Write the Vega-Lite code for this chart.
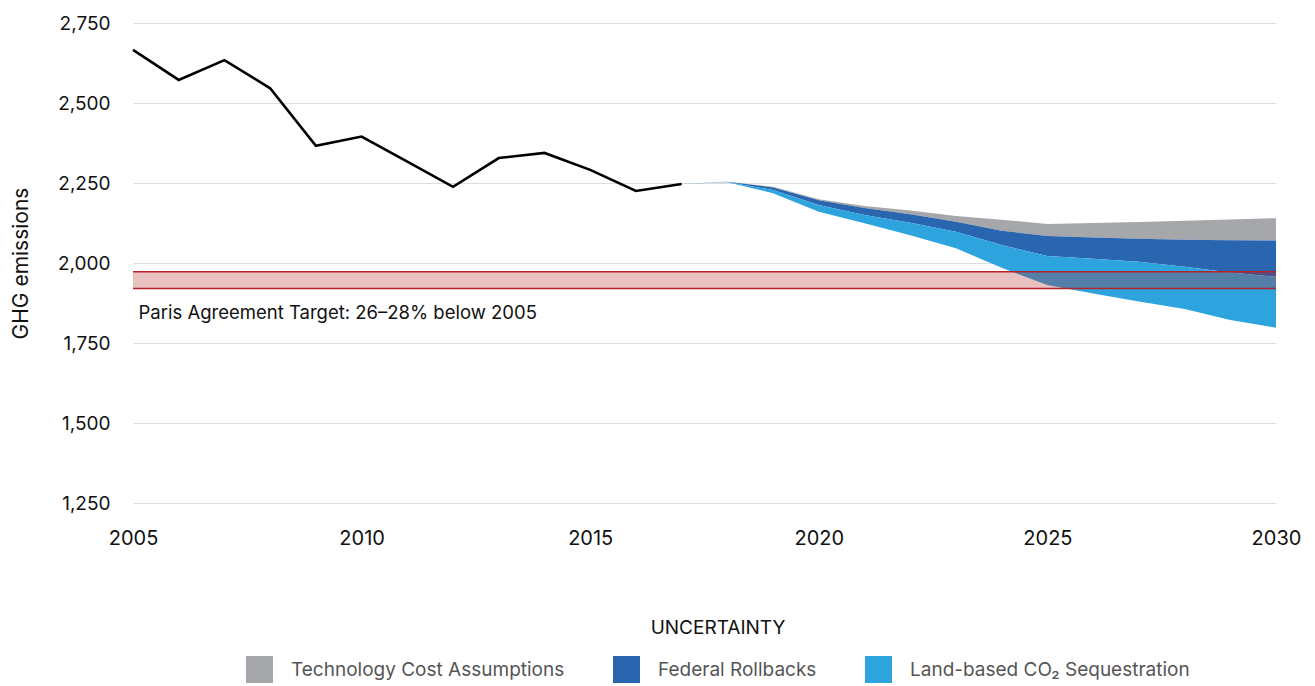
{
  "$schema": "https://vega.github.io/schema/vega-lite/v6.json",
  "width": 1143,
  "height": 480,
  "autosize": {"type": "none"},
  "padding": {"left": 133, "top": 23, "right": 39, "bottom": 183},
  "background": "white",
  "config": {
    "view": {"stroke": null},
    "font": "Inter",
    "axis": {"labelFont": "Inter", "titleFont": "Inter"}
  },
  "datasets": {
    "hist": [
      {"year": 2005, "value": 2666},
      {"year": 2006, "value": 2572},
      {"year": 2007, "value": 2634},
      {"year": 2008, "value": 2546},
      {"year": 2009, "value": 2366},
      {"year": 2010, "value": 2395},
      {"year": 2011, "value": 2317},
      {"year": 2012, "value": 2238},
      {"year": 2013, "value": 2328},
      {"year": 2014, "value": 2344},
      {"year": 2015, "value": 2291},
      {"year": 2016, "value": 2225},
      {"year": 2017, "value": 2247}
    ],
    "bands": [
      {"year": 2017, "series": "Technology Cost Assumptions", "lo": 2247, "hi": 2247},
      {"year": 2018, "series": "Technology Cost Assumptions", "lo": 2254, "hi": 2254},
      {"year": 2019, "series": "Technology Cost Assumptions", "lo": 2236, "hi": 2238},
      {"year": 2020, "series": "Technology Cost Assumptions", "lo": 2196, "hi": 2199},
      {"year": 2021, "series": "Technology Cost Assumptions", "lo": 2172, "hi": 2178},
      {"year": 2022, "series": "Technology Cost Assumptions", "lo": 2152, "hi": 2164},
      {"year": 2023, "series": "Technology Cost Assumptions", "lo": 2129, "hi": 2147},
      {"year": 2024, "series": "Technology Cost Assumptions", "lo": 2101, "hi": 2135},
      {"year": 2025, "series": "Technology Cost Assumptions", "lo": 2084, "hi": 2122},
      {"year": 2026, "series": "Technology Cost Assumptions", "lo": 2080, "hi": 2125},
      {"year": 2027, "series": "Technology Cost Assumptions", "lo": 2076, "hi": 2128},
      {"year": 2028, "series": "Technology Cost Assumptions", "lo": 2073, "hi": 2132},
      {"year": 2029, "series": "Technology Cost Assumptions", "lo": 2071, "hi": 2136},
      {"year": 2030, "series": "Technology Cost Assumptions", "lo": 2070, "hi": 2140},
      {"year": 2017, "series": "Federal Rollbacks", "lo": 2247, "hi": 2247},
      {"year": 2018, "series": "Federal Rollbacks", "lo": 2253, "hi": 2254},
      {"year": 2019, "series": "Federal Rollbacks", "lo": 2228, "hi": 2236},
      {"year": 2020, "series": "Federal Rollbacks", "lo": 2181, "hi": 2196},
      {"year": 2021, "series": "Federal Rollbacks", "lo": 2150, "hi": 2172},
      {"year": 2022, "series": "Federal Rollbacks", "lo": 2126, "hi": 2152},
      {"year": 2023, "series": "Federal Rollbacks", "lo": 2098, "hi": 2129},
      {"year": 2024, "series": "Federal Rollbacks", "lo": 2056, "hi": 2101},
      {"year": 2025, "series": "Federal Rollbacks", "lo": 2022, "hi": 2084},
      {"year": 2026, "series": "Federal Rollbacks", "lo": 2013, "hi": 2080},
      {"year": 2027, "series": "Federal Rollbacks", "lo": 2004, "hi": 2076},
      {"year": 2028, "series": "Federal Rollbacks", "lo": 1988, "hi": 2073},
      {"year": 2029, "series": "Federal Rollbacks", "lo": 1970, "hi": 2071},
      {"year": 2030, "series": "Federal Rollbacks", "lo": 1957, "hi": 2070},
      {"year": 2017, "series": "Land-based CO₂ Sequestration", "lo": 2247, "hi": 2247},
      {"year": 2018, "series": "Land-based CO₂ Sequestration", "lo": 2252, "hi": 2253},
      {"year": 2019, "series": "Land-based CO₂ Sequestration", "lo": 2218, "hi": 2228},
      {"year": 2020, "series": "Land-based CO₂ Sequestration", "lo": 2160, "hi": 2181},
      {"year": 2021, "series": "Land-based CO₂ Sequestration", "lo": 2124, "hi": 2150},
      {"year": 2022, "series": "Land-based CO₂ Sequestration", "lo": 2087, "hi": 2126},
      {"year": 2023, "series": "Land-based CO₂ Sequestration", "lo": 2046, "hi": 2098},
      {"year": 2024, "series": "Land-based CO₂ Sequestration", "lo": 1985, "hi": 2056},
      {"year": 2025, "series": "Land-based CO₂ Sequestration", "lo": 1931, "hi": 2022},
      {"year": 2026, "series": "Land-based CO₂ Sequestration", "lo": 1905, "hi": 2013},
      {"year": 2027, "series": "Land-based CO₂ Sequestration", "lo": 1880, "hi": 2004},
      {"year": 2028, "series": "Land-based CO₂ Sequestration", "lo": 1856, "hi": 1988},
      {"year": 2029, "series": "Land-based CO₂ Sequestration", "lo": 1822, "hi": 1970},
      {"year": 2030, "series": "Land-based CO₂ Sequestration", "lo": 1798, "hi": 1957}
    ],
    "target": [
      {"start": 2005, "end": 2030, "low": 1920, "high": 1973, "label": "Paris Agreement Target: 26–28% below 2005", "labelYear": 2005.12, "labelValue": 1844}
    ]
  },
  "encoding": {
    "x": {
      "field": "year",
      "type": "quantitative",
      "scale": {"domain": [2005, 2030], "nice": false, "zero": false},
      "axis": {
        "values": [2005, 2010, 2015, 2020, 2025, 2030],
        "format": "d",
        "title": null,
        "grid": false,
        "domain": false,
        "ticks": false,
        "labelFontSize": 20,
        "labelColor": "#111111",
        "labelPadding": 25,
        "labelFlush": false
      }
    }
  },
  "layer": [
    {
      "data": {"name": "bands"},
      "mark": {"type": "area", "interpolate": "linear", "opacity": 1},
      "encoding": {
        "x": {"field": "year", "type": "quantitative"},
        "y": {
          "field": "hi",
          "type": "quantitative",
          "stack": null,
          "scale": {"domain": [1250, 2750], "nice": false, "zero": false},
          "axis": {
            "values": [1250, 1500, 1750, 2000, 2250, 2500, 2750],
            "format": ",d",
            "title": "GHG emissions",
            "titleFontSize": 21,
            "titleFontWeight": "normal",
            "titleColor": "#111111",
            "titlePadding": 26,
            "grid": true,
            "gridColor": "#dddddd",
            "gridWidth": 1,
            "domain": false,
            "ticks": false,
            "labelFontSize": 19,
            "labelColor": "#111111",
            "labelPadding": 23
          }
        },
        "y2": {"field": "lo"},
        "color": {
          "field": "series",
          "type": "nominal",
          "scale": {
            "domain": ["Technology Cost Assumptions", "Federal Rollbacks", "Land-based CO₂ Sequestration"],
            "range": ["#a6a7ab", "#2a65b0", "#2ea4de"]
          },
          "legend": {
            "title": "UNCERTAINTY",
            "orient": "none",
            "direction": "horizontal",
            "legendX": 113,
            "legendY": 596,
            "titleAnchor": "middle",
            "titleOrient": "top",
            "titleFontSize": 19,
            "titleFontWeight": "normal",
            "titleColor": "#111111",
            "titlePadding": 18,
            "symbolType": "square",
            "symbolSize": 729,
            "symbolStrokeWidth": 0,
            "symbolOpacity": 1,
            "labelFontSize": 19,
            "labelColor": "#555555",
            "labelOffset": 18,
            "columnPadding": 48,
            "labelLimit": 400
          }
        }
      }
    },
    {
      "data": {"name": "hist"},
      "mark": {"type": "line", "color": "#000000", "strokeWidth": 2.6},
      "encoding": {
        "x": {"field": "year", "type": "quantitative"},
        "y": {"field": "value", "type": "quantitative"}
      }
    },
    {
      "data": {"name": "target"},
      "mark": {"type": "rect", "color": "#b22222", "opacity": 0.28},
      "encoding": {
        "x": {"field": "start", "type": "quantitative"},
        "x2": {"field": "end"},
        "y": {"field": "low", "type": "quantitative"},
        "y2": {"field": "high"}
      }
    },
    {
      "data": {"name": "target"},
      "mark": {"type": "rule", "color": "#b5232a", "strokeWidth": 1.5},
      "encoding": {
        "x": {"field": "start", "type": "quantitative"},
        "x2": {"field": "end"},
        "y": {"field": "low", "type": "quantitative"}
      }
    },
    {
      "data": {"name": "target"},
      "mark": {"type": "rule", "color": "#b5232a", "strokeWidth": 1.5},
      "encoding": {
        "x": {"field": "start", "type": "quantitative"},
        "x2": {"field": "end"},
        "y": {"field": "high", "type": "quantitative"}
      }
    },
    {
      "data": {"name": "target"},
      "mark": {"type": "text", "align": "left", "baseline": "middle", "fontSize": 18.5, "color": "#111111", "font": "Inter"},
      "encoding": {
        "x": {"field": "labelYear", "type": "quantitative"},
        "y": {"field": "labelValue", "type": "quantitative"},
        "text": {"field": "label"}
      }
    }
  ]
}
